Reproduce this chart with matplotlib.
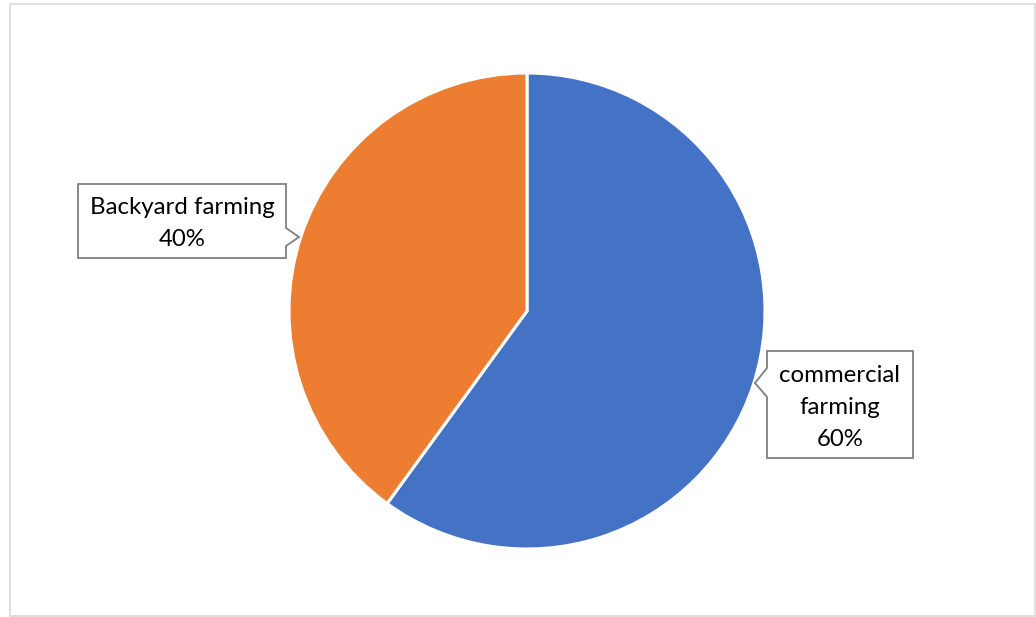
import matplotlib
matplotlib.use("Agg")
import matplotlib.pyplot as plt
from matplotlib.patches import Polygon, Rectangle

categories = ["commercial farming", "Backyard farming"]
values = [60, 40]
label_texts = ["commercial\nfarming\n60%", "Backyard farming\n40%"]
colors = ["#4472C4", "#ED7D31"]

W, H = 1036, 617
fig = plt.figure(figsize=(W / 100, H / 100), dpi=100)
fig.patch.set_facecolor("white")

def fx(x):
    return x / W

def fy(y):
    return 1 - y / H

# chart border
fig.patches.append(Rectangle((fx(9.5), fy(616)), fx(1035) - fx(9.5), fy(3.5) - fy(616),
                             transform=fig.transFigure, fill=False,
                             edgecolor="#d9d9d9", linewidth=1.2))

cx, cy, r = 527, 311, 238
ax = fig.add_axes([fx(cx - r), fy(cy + r), 2 * r / W, 2 * r / H])
ax.pie(values, colors=colors, startangle=90, counterclock=False, radius=1,
       wedgeprops=dict(edgecolor="white", linewidth=2.2))
ax.set_xlim(-1, 1)
ax.set_ylim(-1, 1)
ax.set_aspect("auto")
ax.axis("off")

def callout(box, notch, side, text, line_ys):
    x0, y0, x1, y1 = box
    (na, tip, nb) = notch
    if side == "right":
        pts = [(x0, y0), (x1, y0), (x1, na), tip, (x1, nb), (x1, y1), (x0, y1)]
    else:
        pts = [(x0, y0), (x1, y0), (x1, y1), (x0, y1), (x0, nb), tip, (x0, na)]
    poly = Polygon([(fx(px), fy(py)) for px, py in pts], closed=True,
                   transform=fig.transFigure, facecolor="white",
                   edgecolor="#7f7f7f", linewidth=1.3, zorder=5)
    fig.patches.append(poly)
    xc = (x0 + x1) / 2
    for line, ly in zip(text.split("\n"), line_ys):
        fig.text(fx(xc), fy(ly), line, ha="center", va="center",
                 fontsize=17.3, family=["Lato", "DejaVu Sans"], color="#000000", zorder=6)

callout((78, 184, 286, 258), (228, (299, 237), 246), "right", label_texts[1], [208, 240])
callout((767, 351, 913, 458), (368, (755, 383), 397), "left", label_texts[0], [375, 407, 439])

fig.savefig("out.png", dpi=100, facecolor="white")
